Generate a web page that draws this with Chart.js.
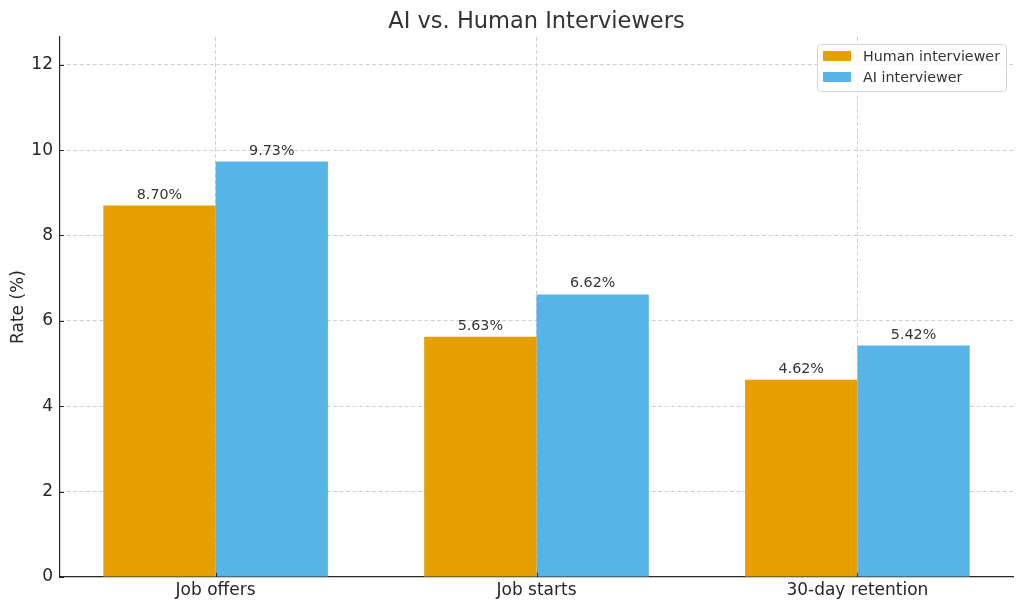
<!DOCTYPE html>
<html>
<head>
<meta charset="utf-8">
<script src="https://cdn.jsdelivr.net/npm/chart.js@4.4.1/dist/chart.umd.min.js"></script>
<style>
  html, body { margin: 0; padding: 0; background: #fff; }
  #wrap { width: 1024px; height: 610px; position: relative; }
</style>
</head>
<body>
<div id="wrap"><canvas id="chart"></canvas></div>
<script>
// ---- data ----
const categories = ["Job offers", "Job starts", "30-day retention"];
const humanRates = [8.70, 5.63, 4.62];
const aiRates = [9.73, 6.62, 5.42];
const seriesNames = ["Human interviewer", "AI interviewer"];
const yTicks = [0, 2, 4, 6, 8, 10, 12];

const COLORS = {
    human: "#E69F00",
    ai: "#56B4E9",
    text: "#333333",
    tick: "#262626",
    axis: "#262626",
    grid: "#cfcfcf"
};
const FONT = "'DejaVu Sans', sans-serif";

// y limit like matplotlib's max * 1.3 headroom
const yMax = Math.max(...aiRates, ...humanRates) * 1.3;

// title, value labels, inward tick marks and legend box
const extras = {
    id: "extras",
    afterDatasetsDraw(chart) {
        const c = chart.ctx;
        const area = chart.chartArea;
        const xs = chart.scales.x, ys = chart.scales.y;

        // value labels on top of every bar
        c.save();
        c.font = "14.3px " + FONT;
        c.fillStyle = COLORS.text;
        c.textAlign = "center";
        c.textBaseline = "alphabetic";
        chart.data.datasets.forEach((ds, di) => {
            chart.getDatasetMeta(di).data.forEach((bar, i) => {
                c.fillText(ds.data[i].y.toFixed(2) + "%", bar.x, bar.y - 7);
            });
        });

        // tick marks pointing inward
        c.strokeStyle = COLORS.axis;
        c.lineWidth = 1;
        yTicks.forEach(v => {
            const y = Math.round(ys.getPixelForValue(v)) + 0.5;
            c.beginPath();
            c.moveTo(area.left, y);
            c.lineTo(area.left + 4, y);
            c.stroke();
        });
        categories.forEach((_, i) => {
            const x = Math.round(xs.getPixelForValue(i)) + 0.5;
            c.beginPath();
            c.moveTo(x, area.bottom);
            c.lineTo(x, area.bottom - 4);
            c.stroke();
        });

        // title
        c.font = "22.5px " + FONT;
        c.fillStyle = COLORS.text;
        c.textAlign = "center";
        c.fillText("AI vs. Human Interviewers", (area.left + area.right) / 2, 28);

        // legend (matplotlib style, upper right)
        const bx = 817.5, by = 44.5, bw = 189, bh = 47;
        c.fillStyle = "rgba(255,255,255,0.8)";
        c.strokeStyle = "#d5d5d5";
        c.beginPath();
        c.roundRect(bx, by, bw, bh, 3);
        c.fill();
        c.stroke();
        c.font = "14.3px " + FONT;
        c.textAlign = "left";
        c.textBaseline = "middle";
        chart.data.datasets.forEach((ds, di) => {
            const cy = 56 + di * 21;
            c.fillStyle = ds.backgroundColor;
            c.fillRect(823, cy - 5, 28, 10);
            c.fillStyle = COLORS.text;
            c.fillText(ds.label, 863, cy + 1);
        });
        c.restore();
    }
};

new Chart(document.getElementById("chart"), {
    type: "bar",
    data: {
        datasets: [
            {
                label: seriesNames[0],
                data: humanRates.map((v, i) => ({ x: i, y: v })),
                backgroundColor: COLORS.human
            },
            {
                label: seriesNames[1],
                data: aiRates.map((v, i) => ({ x: i, y: v })),
                backgroundColor: COLORS.ai
            }
        ]
    },
    options: {
        responsive: true,
        maintainAspectRatio: false,
        animation: false,
        devicePixelRatio: 1,
        categoryPercentage: 0.7,
        barPercentage: 1.0,
        layout: { padding: { top: 37, right: 11, left: 0, bottom: 0 } },
        plugins: {
            legend: { display: false },
            tooltip: { enabled: false }
        },
        scales: {
            x: {
                type: "linear",
                offset: false,
                min: -0.485,
                max: 2.485,
                afterBuildTicks: s => { s.ticks = categories.map((_, i) => ({ value: i })); },
                afterFit: s => { s.height = 33; },
                ticks: {
                    autoSkip: false,
                    maxRotation: 0,
                    padding: 3,
                    color: COLORS.tick,
                    font: { family: FONT, size: 17 },
                    callback: v => categories[v]
                },
                grid: {
                    offset: false,
                    color: COLORS.grid,
                    drawTicks: false,
                    lineWidth: 1
                },
                border: { display: true, color: COLORS.axis, width: 1.2, dash: [4, 2.5] }
            },
            y: {
                min: 0,
                max: yMax,
                afterBuildTicks: s => { s.ticks = yTicks.map(v => ({ value: v })); },
                afterFit: s => { s.width = 60; },
                ticks: {
                    padding: 7,
                    color: COLORS.tick,
                    font: { family: FONT, size: 17 }
                },
                grid: {
                    color: ctx => ctx.tick && ctx.tick.value === 0 ? "rgba(0,0,0,0)" : COLORS.grid,
                    drawTicks: false,
                    lineWidth: 1
                },
                border: { display: true, color: COLORS.axis, width: 1.2, dash: [4, 2.5] },
                title: {
                    display: true,
                    text: "Rate (%)",
                    color: COLORS.tick,
                    font: { family: FONT, size: 17 },
                    padding: { top: 8, bottom: 0 }
                }
            }
        }
    },
    plugins: [extras]
});
</script>
</body>
</html>
